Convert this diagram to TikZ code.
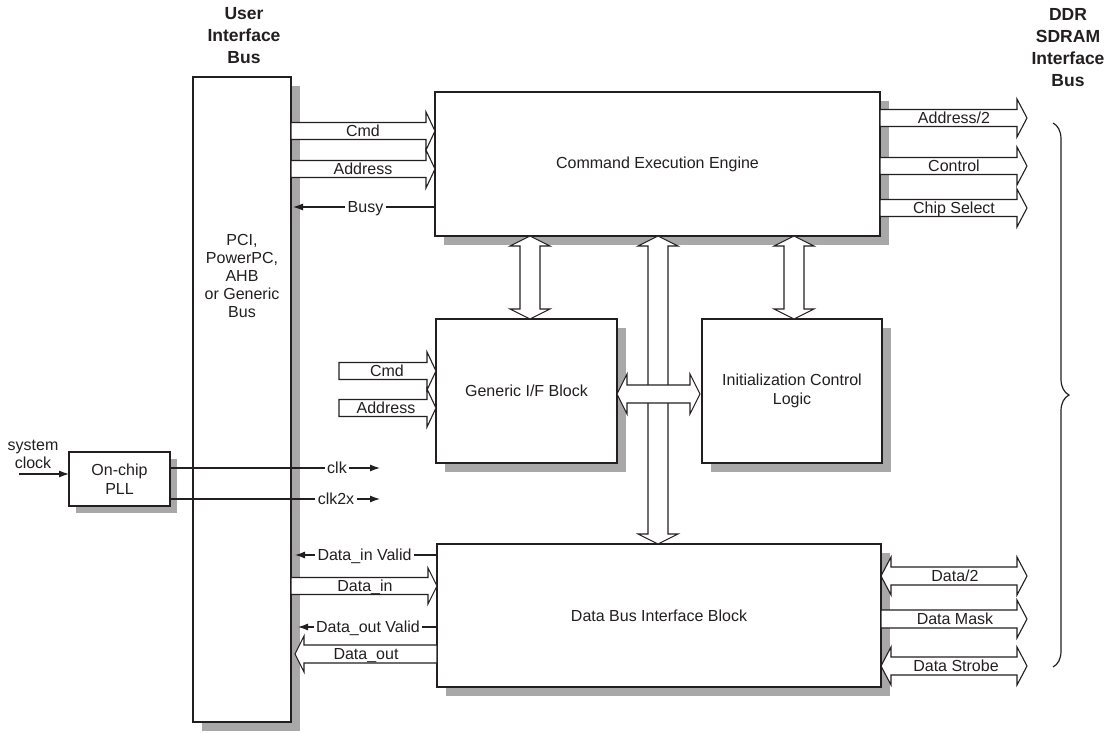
\documentclass[tikz,border=0pt]{standalone}
\usepackage{fontspec}
\setmainfont{Liberation Sans}
\usetikzlibrary{arrows.meta,calc,shadows,decorations.pathreplacing}
\definecolor{shadowgray}{RGB}{168,168,168}
\definecolor{ink}{RGB}{35,31,32}
% single fat arrow: [opts]{tail}{tip}{shaft half}{head half}{head length}
\newcommand\fatone[6][]{%
  \coordinate (fab) at ($(#3)!#6!(#2)$);
  \draw[fat,#1] ($(#2)!#4!90:(#3)$) -- ($(fab)!#4!-90:(#2)$) -- ($(fab)!#5!-90:(#2)$) -- (#3)
     -- ($(fab)!#5!90:(#2)$) -- ($(fab)!#4!90:(#2)$) -- ($(#2)!#4!-90:(#3)$) -- cycle;
}
% double fat arrow
\newcommand\fattwo[6][]{%
  \coordinate (fbA) at ($(#2)!#6!(#3)$);
  \coordinate (fbB) at ($(#3)!#6!(#2)$);
  \draw[fat,#1] (#2) -- ($(fbA)!#5!90:(#3)$) -- ($(fbA)!#4!90:(#3)$) -- ($(fbB)!#4!-90:(#2)$)
     -- ($(fbB)!#5!-90:(#2)$) -- (#3) -- ($(fbB)!#5!90:(#2)$) -- ($(fbB)!#4!90:(#2)$)
     -- ($(fbA)!#4!-90:(#3)$) -- ($(fbA)!#5!-90:(#3)$) -- cycle;
}
\begin{document}
\begin{tikzpicture}[x=1pt,y=-1pt,
  every node/.style={font=\fontsize{16}{19}\selectfont, text=ink, inner sep=0pt, outer sep=0pt},
  box/.style={draw=ink, line width=1.4pt, fill=white, align=center,
    general shadow={fill=shadowgray, shadow xshift=#1, shadow yshift=-#1}},
  box/.default=9pt,
  fat/.style={draw=ink, line width=1.1pt, fill=white, line join=miter},
  thinarr/.style={draw=ink, line width=1.1pt, -{Latex[length=10pt,width=7pt]}},
  lbl/.style={text height=12.5pt, text depth=1.5pt},
  wlbl/.style={lbl, fill=white, inner xsep=2.5pt},
  title/.style={font=\bfseries\fontsize{17.5}{22}\selectfont, align=center}]
\useasboundingbox (0,0) rectangle (1112,733);

% ---------- boxes ----------
\node[box, minimum width=98pt, minimum height=645pt] (uib) at (242,399.5) {};
\node[box, minimum width=445pt, minimum height=144pt] (cee) at (657.5,164) {Command Execution Engine};
\node[box, minimum width=181pt, minimum height=144pt] (gif) at (526.5,391) {Generic I/F Block};
\node[box, minimum width=180pt, minimum height=144pt] (icl) at (792,391) {Initialization Control\\Logic};
\node[box, minimum width=444pt, minimum height=143pt] (dbi) at (659,615.5) {Data Bus Interface Block};
\node[box=7pt, minimum width=101pt, minimum height=54pt] (pll) at (119.5,479) {On-chip\\PLL};

\node[align=center, font=\fontsize{16}{18}\selectfont] (uibtxt) at (242,276) {PCI,\\PowerPC,\\AHB\\or Generic\\Bus};

% ---------- titles ----------
\node[title] (uibt) at (244,36) {User\\Interface\\Bus};
\node[title] (ddrt) at (1068,48) {DDR\\SDRAM\\Interface\\Bus};

% ---------- UIB -> CEE ----------
\coordinate (cmdT) at (uib.east |- 0,131);
\coordinate (cmdH) at (cee.west |- 0,131);
\fatone{cmdT}{cmdH}{8.5pt}{19pt}{9pt}
\node[lbl] (cmdL) at (363,131) {Cmd};
\coordinate (adrT) at (uib.east |- 0,169);
\coordinate (adrH) at (cee.west |- 0,169);
\fatone{adrT}{adrH}{8.5pt}{19pt}{9pt}
\node[lbl] (adrL) at (363,169) {Address};

% ---------- CEE outputs ----------
\coordinate (a2T) at (cee.east |- 0,118);
\coordinate (a2H) at (1027,118);
\fatone{a2T}{a2H}{8.5pt}{19pt}{10pt}
\node[lbl] (a2L) at (954,118) {Address/2};
\coordinate (ctT) at (cee.east |- 0,166);
\coordinate (ctH) at (1027,166);
\fatone{ctT}{ctH}{8.5pt}{19pt}{10pt}
\node[lbl] (ctL) at (954,166) {Control};
\coordinate (csT) at (cee.east |- 0,208);
\coordinate (csH) at (1027,208);
\fatone{csT}{csH}{8.5pt}{19pt}{10pt}
\node[lbl] (csL) at (954,208) {Chip Select};

% ---------- Generic I/F inputs ----------
\coordinate (gcT) at (339,371);
\coordinate (gcH) at (gif.west |- 0,371);
\fatone{gcT}{gcH}{8.5pt}{19pt}{9pt}
\node[lbl] (gcL) at (387,371) {Cmd};
\coordinate (gaT) at (339,408);
\coordinate (gaH) at (gif.west |- 0,408);
\fatone{gaT}{gaH}{8.5pt}{19pt}{9pt}
\node[lbl] (gaL) at (386,408) {Address};

% ---------- vertical buses ----------
\coordinate (v1T) at (cee.south -| 530,0);
\coordinate (v1B) at (gif.north -| 530,0);
\fattwo{v1T}{v1B}{10pt}{20pt}{10pt}
\coordinate (v3T) at (cee.south -| 794,0);
\coordinate (v3B) at (icl.north -| 794,0);
\fattwo{v3T}{v3B}{10pt}{20pt}{10pt}
\coordinate (v2T) at (cee.south -| 658,0);
\coordinate (v2B) at (dbi.north -| 658,0);
\fattwo{v2T}{v2B}{10pt}{20pt}{10pt}
\coordinate (hL) at (gif.east |- 0,394);
\coordinate (hR) at ($(icl.west |- 0,394)+(-2,0)$);
\fattwo{hL}{hR}{9pt}{20pt}{10pt}

% ---------- Data bus ----------
\coordinate (diT) at (uib.east |- 0,586);
\coordinate (diH) at (dbi.west |- 0,586);
\fatone{diT}{diH}{8.5pt}{18pt}{9pt}
\node[lbl] (diL) at (365,586) {Data\_in};
\coordinate (doT) at (dbi.west |- 0,654);
\coordinate (doH) at ($(uib.east |- 0,654)+(4,0)$);
\fatone{doT}{doH}{9pt}{18pt}{9pt}
\node[lbl] (doL) at (366,654) {Data\_out};

\coordinate (d2T) at (dbi.east |- 0,576);
\coordinate (d2H) at (1027,576);
\fattwo{d2T}{d2H}{9pt}{19pt}{10pt}
\node[lbl] (d2L) at (955,576) {Data/2};
\coordinate (dmT) at (dbi.east |- 0,619);
\coordinate (dmH) at (1027,619);
\fatone{dmT}{dmH}{9pt}{19pt}{10pt}
\node[lbl] (dmL) at (955,619) {Data Mask};
\coordinate (dsT) at (dbi.east |- 0,666);
\coordinate (dsH) at (1027,666);
\fattwo{dsT}{dsH}{9pt}{19pt}{10pt}
\node[lbl] (dsL) at (956,666) {Data Strobe};

% ---------- thin signals ----------
\coordinate (busyE) at ($(uib.east |- 0,207)+(2,0)$);
\draw[thinarr] (cee.west |- 0,207) -- (busyE);
\node[wlbl] (busyL) at (365.5,207) {Busy};
\coordinate (divE) at ($(uib.east |- 0,555)+(4,0)$);
\draw[thinarr] (dbi.west |- 0,555) -- (divE);
\node[wlbl] (divL) at (364.5,555) {Data\_in Valid};
\coordinate (dovE) at ($(uib.east |- 0,627)+(7,0)$);
\draw[thinarr] (dbi.west |- 0,627) -- (dovE);
\node[wlbl] (dovL) at (368,627) {Data\_out Valid};

\coordinate (clkE) at (380,468);
\draw[thinarr] (pll.east |- 0,468) -- (clkE);
\node[wlbl] (clkL) at (337,468) {clk};
\coordinate (clk2E) at (380,499);
\draw[thinarr] (pll.east |- 0,499) -- (clk2E);
\node[wlbl] (clk2L) at (336,499) {clk2x};

\node[align=center, font=\fontsize{16}{18}\selectfont] (sysL) at (33,454) {system\\clock};
\coordinate (sysS) at (19,474);
\draw[thinarr] (sysS) -- (sysS -| pll.west);

% ---------- brace ----------
\coordinate (brT) at (1053,123);
\coordinate (brB) at (1053,667);
\draw[ink, line width=1.2pt, decorate, decoration={brace, amplitude=16pt}] (brT) -- (brB);
\end{tikzpicture}
\end{document}
